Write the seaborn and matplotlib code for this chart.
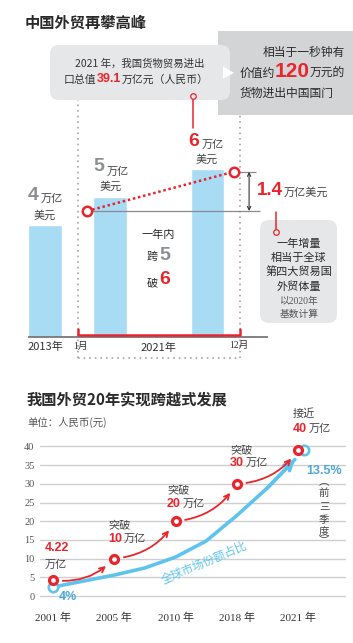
import matplotlib
matplotlib.use("Agg")
import matplotlib.pyplot as plt
import seaborn as sns
from matplotlib.patches import FancyBboxPatch, Rectangle, Polygon

# ======================
# Data
# ======================

# 上图: 外贸总额 (万亿美元)
bar_years = ["2013年", "2021年1月", "2021年12月"]
bar_values = [4, 5, 6]
month_values = [4.5, 5.9]          # 红圈: 年初 / 年末
increase_text = "1.4"

# 下图: 进出口总值 (万亿元人民币)
years = ["2001 年", "2005 年", "2010 年", "2018 年", "2021 年"]
trade_values = [4.22, 10, 20, 30, 39.1]
trade_numbers = ["4.22", "10", "20", "30", "40"]
trade_words = ["", "突破", "突破", "突破", "接近"]
y_ticks = [0, 5, 10, 15, 20, 25, 30, 35, 40]

# 全球市场份额占比曲线
share_x = [0, 0.5, 1, 1.5, 2, 2.5, 3, 3.5, 3.95]
share_y = [2.4, 4.0, 5.6, 7.5, 10.4, 14.7, 21.5, 28.9, 36.5]
share_labels = ["4%", "13.5%"]

# ======================
# Layout / style
# ======================

W, H = 353, 643
RED = "#e8252c"
BAR_BLUE = "#a8dcf5"
CURVE_BLUE = "#5ec4ee"
TEXT_BLUE = "#4ea7d6"
GRAY_NUM = "#8b8e92"
DARK = "#2a2a2a"
MID = "#444444"
LIGHT_BOX = "#e6e7e8"
DARK_BOX = "#d3d4d6"

bar_slots = [0, 2, 5]
circle_slots = [1.3, 5.8]
month_slots = [1, 6]
share_mark_x = [0, 4.1]
share_mark_y = [2.4, 39.0]

sns.set_style("white")
CJK = ["Noto Sans CJK SC", "DejaVu Sans"]
NUM = ["Liberation Sans", "DejaVu Sans"]
SERIF = ["Liberation Serif", "Noto Sans CJK SC"]
plt.rcParams["font.family"] = CJK

fig = plt.figure(figsize=(W / 100, H / 100), dpi=100)

# ======================
# Top chart
# ======================

U, X0 = 32.5, 45
ax1 = fig.add_axes([0, 1 - 380 / H, 1, 380 / H])
sns.barplot(x=bar_slots, y=bar_values, native_scale=True, width=0.523,
            color=BAR_BLUE, saturation=1, ax=ax1, zorder=1)

ax1.hlines(month_values[0], circle_slots[0], 6.6, color="#8a8a8a", lw=0.9, zorder=2)
ax1.hlines(month_values[1], circle_slots[1], 6.5, color="#8a8a8a", lw=0.9, zorder=2)
sns.lineplot(x=circle_slots, y=month_values, color=RED, lw=1.8,
             linestyle=(0, (1, 1.1)), ax=ax1, zorder=3)
sns.scatterplot(x=circle_slots, y=month_values, s=46, color="white",
                edgecolor=RED, linewidth=1.8, ax=ax1, zorder=4)
ax1.annotate("", xy=(6.28, month_values[1]), xytext=(6.28, month_values[0]),
             arrowprops=dict(arrowstyle="<->", color="#333", lw=0.8,
                             shrinkA=0, shrinkB=0, mutation_scale=6))

dots = dict(colors="#aaaaaa", lw=1.3, linestyles=[(0, (0.9, 2.2))], zorder=0)
ax1.vlines(month_slots[0], -0.75, 8.46, **dots)
ax1.vlines(month_slots[1], -0.75, 7.93, **dots)
ax1.hlines(-0.75, month_slots[0], month_slots[1], **dots)

ax1.hlines(0, -0.52, 6.86, color="#777777", lw=1.3, zorder=2)
ax1.plot([month_slots[0], month_slots[0], month_slots[1], month_slots[1]],
         [0.28, 0.06, 0.06, 0.28], color=RED, lw=1.8, zorder=3)

ax1.set_xlim(-X0 / U, (W - X0) / U)
ax1.set_ylim(-(380 - 337) / 28, 337 / 28)
ax1.set_axis_off()

# ======================
# Bottom chart
# ======================

X2, U2, Y2, V2 = 53, 61.25, 596, 3.74
x_idx = list(range(len(years)))
ax2 = fig.add_axes([40 / W, 1 - 608 / H, 306 / W, 165 / H])

sns.lineplot(x=share_x, y=share_y, color=CURVE_BLUE, lw=2.6, sort=False,
             ax=ax2, zorder=3)
ax2.annotate("", xy=(share_x[-1], share_y[-1]), xytext=(share_x[-2], share_y[-2]),
             arrowprops=dict(arrowstyle="->", color=CURVE_BLUE, lw=2.6,
                             mutation_scale=14, shrinkA=0, shrinkB=0))
sns.scatterplot(x=share_mark_x, y=share_mark_y, s=46, color="white",
                edgecolor=CURVE_BLUE, linewidth=1.9, ax=ax2, zorder=4, clip_on=False)

for i in range(len(x_idx) - 1):
    ax2.annotate("", xy=(x_idx[i + 1], trade_values[i + 1]),
                 xytext=(x_idx[i], trade_values[i]),
                 arrowprops=dict(arrowstyle="->", color=RED, lw=1.3,
                                 connectionstyle="arc3,rad=0.25",
                                 shrinkA=7, shrinkB=8, mutation_scale=9))
sns.scatterplot(x=x_idx, y=trade_values, s=33, color="white", edgecolor=RED,
                linewidth=2.3, ax=ax2, zorder=6, clip_on=False)

ax2.set_yticks(y_ticks, [str(v) for v in y_ticks], fontfamily=SERIF,
               fontsize=7.5, color="#555555")
ax2.set_xticks(x_idx, years, fontfamily=SERIF, fontsize=8, color="#333333")
ax2.tick_params(axis="y", length=0, pad=4)
ax2.tick_params(axis="x", length=0, pad=3)
ax2.grid(axis="y", color="#cfcfcf", lw=1)
ax2.grid(axis="x", visible=False)
ax2.set_axisbelow(True)
sns.despine(ax=ax2, left=True, bottom=True)
ax2.set_xlim((40 - X2) / U2, (346 - X2) / U2)
ax2.set_ylim(-(608 - Y2) / V2, (Y2 - 443) / V2)

# ======================
# Boxes and text (pixel overlay)
# ======================

deco = fig.add_axes([0, 0, 1, 1])
deco.set_xlim(0, W)
deco.set_ylim(H, 0)
deco.set_axis_off()


def txt(x, y, s, size=8, color=MID, ha="center", family=CJK, **kw):
    deco.text(x, y, s, fontsize=size, color=color, ha=ha, va="center",
              family=family, **kw)


def num(x, y, s, size, color=RED, ha="center"):
    txt(x, y, s, size=size, color=color, ha=ha, family=NUM, weight="bold")


txt(25, 23, "中国外贸再攀高峰", size=11, color=DARK, ha="left", weight="bold")

deco.add_patch(Rectangle((218, 31), 135, 84, fc=DARK_BOX, ec="none"))
deco.add_patch(FancyBboxPatch((50, 45), 180, 55,
                              boxstyle="round,pad=0,rounding_size=9",
                              fc=LIGHT_BOX, ec="none"))
deco.add_patch(Polygon([(223, 66.5), (223, 79), (234, 72.8)], fc="white", ec="none"))

txt(140, 64, "2021 年，我国货物贸易进出", size=7.5, color="#333")
txt(96, 80, "口总值", size=7.8, color="#333", ha="right")
num(97, 79.5, "39.1", 9, ha="left")
txt(122, 80, "万亿元（人民币）", size=7.8, color="#333", ha="left")

txt(345, 52, "相当于一秒钟有", size=8.5, color=DARK, ha="right")
txt(240, 73, "价值约", size=8.5, color=DARK, ha="left")
num(292, 71.5, "120", 15)
txt(310, 73, "万元的", size=8.5, color=DARK, ha="left")
txt(240, 93, "货物进出中国国门", size=8.5, color=DARK, ha="left")

deco.plot([193, 193], [96, 128], color=RED, lw=1.1)
deco.plot([193], [96], "o", ms=4, mfc=LIGHT_BOX, mec=RED, mew=0.9)

# bar labels
num(33, 195.5, "4", 14, color=GRAY_NUM)
txt(41, 199, "万亿", ha="left")
txt(45, 216, "美元")
num(99, 166.5, "5", 14, color=GRAY_NUM)
txt(107, 172, "万亿", ha="left")
txt(111, 187, "美元")
num(194, 141, "6", 14)
txt(202, 145, "万亿", ha="left")
txt(207, 160, "美元")

txt(158, 235, "一年内", color=DARK)
txt(152, 257, "跨", color=DARK)
num(165, 255, "5", 14, color=GRAY_NUM)
txt(152, 283, "破", color=DARK)
num(165, 280, "6", 14)

num(257, 190.5, increase_text, 13.5, ha="left")
txt(284, 193, "万亿美元", ha="left")

deco.add_patch(FancyBboxPatch((260, 220), 77, 103,
                              boxstyle="round,pad=0,rounding_size=9",
                              fc=LIGHT_BOX, ec="none"))
deco.plot([276, 276], [212, 232], color=RED, lw=1.1)
deco.plot([276], [232], "o", ms=4, mfc=LIGHT_BOX, mec=RED, mew=0.9)
for yy, line in zip([244, 258, 272, 287], ["一年增量", "相当于全球", "第四大贸易国", "外贸体量"]):
    txt(299, yy, line, color=DARK)
txt(299, 301, "以2020年", size=7, color="#555", family=SERIF)
txt(299, 314, "基数计算", size=7, color="#555")

txt(45, 347, "2013年", color="#333")
txt(80, 346, "1月", size=7, color="#333", family=SERIF)
txt(158, 348, "2021年", color="#333")
txt(239, 345, "12月", size=7, color="#333", family=SERIF)

# bottom titles and labels
txt(27, 400, "我国外贸20年实现跨越式发展", size=11, color=DARK, ha="left", weight="bold")
txt(27, 422, "单位：人民币(元)", size=7.5, color="#555", ha="left")

num(45, 548, trade_numbers[0], 9, ha="left")
txt(45, 565, "万亿", ha="left")
label_pos = [(108, 525, 539), (167, 490, 504), (230, 450, 463), (293, 414, 429)]
for (lx, wy, ny), word, n in zip(label_pos, trade_words[1:], trade_numbers[1:]):
    txt(lx, wy, word, ha="left")
    num(lx, ny, n, 9, ha="left")
    txt(lx + 15.5, ny, "万亿", ha="left")

num(68, 597, share_labels[0], 9, color=TEXT_BLUE)
num(324, 471, share_labels[1], 9, color=TEXT_BLUE)
for yy, ch in zip([482, 493, 507, 520, 532, 541], ["︵", "前", "三", "季", "度", "︶"]):
    txt(324, yy, ch, size=7.5, color="#444")

txt(204, 563, "全球市场份额占比", size=8.3, color=CURVE_BLUE, rotation=23,
    rotation_mode="anchor")

fig.savefig("out.png", dpi=100, facecolor="white")
